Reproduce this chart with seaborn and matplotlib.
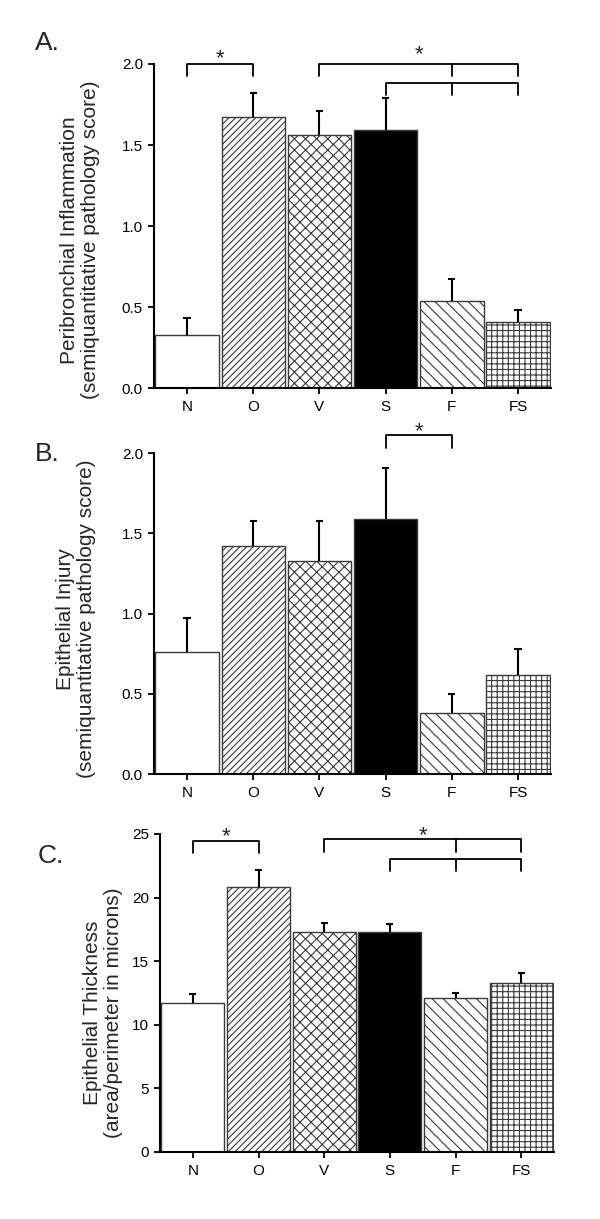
import matplotlib
matplotlib.use("Agg")
import matplotlib.pyplot as plt
import numpy as np
import seaborn as sns

sns.set_style("ticks")
plt.rcParams["font.family"] = ["Liberation Sans", "DejaVu Sans"]
plt.rcParams["hatch.linewidth"] = 0.8

groups = ["N", "O", "V", "S", "F", "FS"]
hatches = ["", "/////", "xxx", "", "\\\\\\", "+++"]
fills = ["white", "white", "white", "black", "white", "white"]

# panel A: peribronchial inflammation
infl_mean = [0.33, 1.67, 1.56, 1.59, 0.54, 0.41]
infl_err = [0.10, 0.15, 0.15, 0.20, 0.13, 0.07]
# panel B: epithelial injury
injury_mean = [0.76, 1.42, 1.33, 1.59, 0.38, 0.62]
injury_err = [0.21, 0.16, 0.25, 0.32, 0.12, 0.16]
# panel C: epithelial thickness
thick_mean = [11.7, 20.8, 17.3, 17.3, 12.1, 13.3]
thick_err = [0.7, 1.4, 0.7, 0.6, 0.4, 0.8]

# significance brackets: (start, end, middle tick, top, leg bottom)
infl_brackets = [(0, 1, None, 2.0, 1.926), (2, 5, 4, 2.0, 1.924), (3, 5, 4, 1.880, 1.806)]
infl_stars = [(0.5, 2.0), (3.5, 2.024)]
injury_brackets = [(3, 4, None, 2.114, 2.03)]
injury_stars = [(3.5, 2.102)]
thick_brackets = [(0, 1, None, 24.48, 23.53), (2, 5, 4, 24.58, 23.6), (3, 5, 4, 23.03, 22.09)]
thick_stars = [(0.5, 24.36), (3.5, 24.43)]


def draw_panel(ax, means, errs, ymax, yticks, fmt, ylabel, label_xy, brackets, stars):
    sns.barplot(x=groups, y=means, ax=ax, color="white", width=0.96,
                edgecolor="#3a3a3a", linewidth=1.0, saturation=1)
    for patch, h, fc in zip(ax.patches, hatches, fills):
        patch.set_hatch(h)
        patch.set_facecolor(fc)

    x = np.arange(len(groups))
    tops = np.array(means) + np.array(errs)
    ax.vlines(x, means, tops, color="black", lw=1.5)
    ax.hlines(tops, x - 0.055, x + 0.055, color="black", lw=1.5)

    for x1, x2, xm, top, leg in brackets:
        ax.plot([x1, x1, x2, x2], [leg, top, top, leg], color="black", lw=1.3, clip_on=False)
        if xm is not None:
            ax.plot([xm, xm], [top, leg], color="black", lw=1.3, clip_on=False)
    for sx, sy in stars:
        ax.text(sx, sy, "*", ha="center", va="baseline", fontsize=16, clip_on=False)

    ax.set_ylim(0, ymax)
    ax.set_xlim(-0.5, 5.5)
    ax.set_yticks(yticks)
    ax.set_yticklabels([fmt.format(t) for t in yticks])
    sns.despine(ax=ax)
    for side in ["left", "bottom"]:
        ax.spines[side].set_linewidth(1.5)
        ax.spines[side].set_color("black")
    ax.tick_params(axis="both", direction="out", length=4.5, width=1.3,
                   labelsize=11, colors="black")
    ax.tick_params(axis="y", pad=3.5)
    ax.tick_params(axis="x", pad=4)
    ax.set_ylabel(ylabel, fontsize=15, linespacing=1.1)
    ax.yaxis.label.set_va("center")
    ax.yaxis.set_label_coords(*label_xy)


fig = plt.figure(figsize=(6, 12.19), dpi=100)
ax_a = fig.add_axes([0.2567, 0.6817, 0.6617, 0.2658])
ax_b = fig.add_axes([0.2567, 0.3650, 0.6617, 0.2633])
ax_c = fig.add_axes([0.2667, 0.0550, 0.6567, 0.2609])

draw_panel(ax_a, infl_mean, infl_err, 2.0, [0, 0.5, 1.0, 1.5, 2.0], "{:.1f}",
           "Peribronchial Inflammation\n(semiquantitative pathology score)",
           (-0.186, 0.457), infl_brackets, infl_stars)
draw_panel(ax_b, injury_mean, injury_err, 2.0, [0, 0.5, 1.0, 1.5, 2.0], "{:.1f}",
           "Epithelial Injury\n(semiquantitative pathology score)",
           (-0.196, 0.483), injury_brackets, injury_stars)
draw_panel(ax_c, thick_mean, thick_err, 25, [0, 5, 10, 15, 20, 25], "{:d}",
           "Epithelial Thickness\n(area/perimeter in microns)",
           (-0.145, 0.437), thick_brackets, thick_stars)

fig.text(0.058, 0.9647, "A.", fontsize=19, ha="left", va="center")
fig.text(0.058, 0.6276, "B.", fontsize=19, ha="left", va="center")
fig.text(0.063, 0.2978, "C.", fontsize=19, ha="left", va="center")

fig.savefig("out.png", dpi=100)
